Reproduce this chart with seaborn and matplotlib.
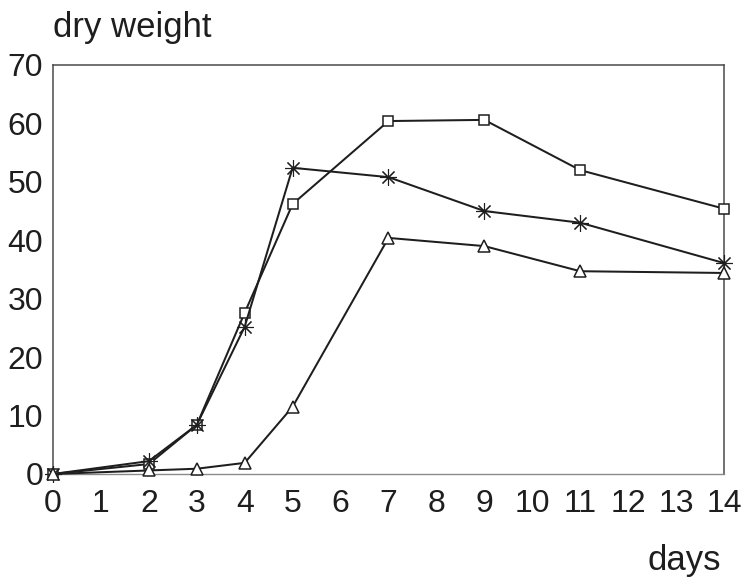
import matplotlib
matplotlib.use("Agg")
import matplotlib.pyplot as plt
import seaborn as sns
import pandas as pd

# Sampling days and dry-weight measurements for the three treatments
days = [0, 2, 3, 4, 5, 7, 9, 11, 14]
weight_square = [0.0, 1.7, 8.4, 27.6, 46.2, 60.4, 60.6, 52.0, 45.4]
weight_star = [0.0, 2.2, 8.4, 25.2, 52.4, 50.8, 45.0, 43.0, 36.1]
weight_triangle = [0.0, 0.6, 0.9, 1.9, 11.5, 40.4, 39.0, 34.7, 34.4]

x_ticks = list(range(0, 15))
y_ticks = list(range(0, 80, 10))

sns.set_theme(style="white")
plt.rcParams["font.family"] = ["Liberation Sans", "DejaVu Sans"]

fig = plt.figure(figsize=(7.43, 5.80), dpi=100)
ax = fig.add_axes([0.0713, 0.1828, 0.9031, 0.7052])

ink = "#1e1e1e"
series = [
    (weight_square, "s", 6.5, 1.1),
    (weight_star, (8, 2, 0), 12, 0.8),
    (weight_triangle, "^", 8.5, 1.1),
]
for values, marker, msize, mew in series:
    df = pd.DataFrame({"day": days, "weight": values})
    sns.lineplot(
        data=df, x="day", y="weight", ax=ax,
        color=ink, linewidth=1.45,
        marker=marker, markersize=msize,
        markerfacecolor="white", markeredgecolor=ink,
        markeredgewidth=mew, clip_on=False, zorder=3,
    )

ax.set_xlim(0, 14)
ax.set_ylim(0, 70)
ax.set_xticks(x_ticks)
ax.set_yticks(y_ticks)
ax.set_xticklabels([str(t) for t in x_ticks])
ax.set_yticklabels([str(t) for t in y_ticks])
ax.set_xlabel("")
ax.set_ylabel("")
ax.tick_params(axis="both", length=0, labelsize=23, colors=ink)
ax.tick_params(axis="x", pad=11)
ax.tick_params(axis="y", pad=7)

for side in ["left", "top", "right"]:
    ax.spines[side].set_color("#4a4a4a")
    ax.spines[side].set_linewidth(1.1)
ax.spines["bottom"].set_color("#8a8a8a")
ax.spines["bottom"].set_linewidth(1.0)

fig.text(0.0713, 0.936, "dry weight", fontsize=25, color=ink, ha="left", va="baseline")
fig.text(0.970, 0.017, "days", fontsize=25, color=ink, ha="right", va="baseline")

fig.savefig("out.png", dpi=100, facecolor="white")
